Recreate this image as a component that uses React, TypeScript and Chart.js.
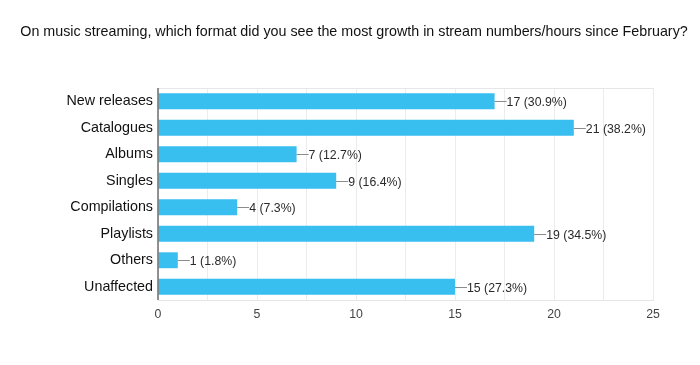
import React, { useEffect, useRef } from "react";
import { Chart, registerables } from "chart.js";

Chart.register(...registerables);

const titleText =
  "On music streaming, which format did you see the most growth in stream numbers/hours since February?";
const categories = [
  "New releases",
  "Catalogues",
  "Albums",
  "Singles",
  "Compilations",
  "Playlists",
  "Others",
  "Unaffected",
];
const counts = [17, 21, 7, 9, 4, 19, 1, 15];
const percents = ["30.9%", "38.2%", "12.7%", "16.4%", "7.3%", "34.5%", "1.8%", "27.3%"];
const xTicks = [0, 5, 10, 15, 20, 25];

const FONT = "Arial, 'Liberation Sans', Helvetica, sans-serif";

const labelPlugin = {
  id: "valueLabels",
  afterDatasetsDraw(chart: any) {
    const ctx = chart.ctx;
    const area = chart.chartArea;
    ctx.save();
    // title
    ctx.font = "14.3px " + FONT;
    ctx.fillStyle = "#111111";
    ctx.textAlign = "center";
    ctx.textBaseline = "middle";
    ctx.fillText(titleText, 354, 32);
    // top border
    ctx.strokeStyle = "#e6e6e6";
    ctx.lineWidth = 1;
    ctx.beginPath();
    ctx.moveTo(area.left, area.top + 0.5);
    ctx.lineTo(area.right, area.top + 0.5);
    ctx.stroke();
    // zero line
    const x0 = chart.scales.x.getPixelForValue(0);
    ctx.strokeStyle = "#6e6e6e";
    ctx.lineWidth = 1.5;
    ctx.beginPath();
    ctx.moveTo(x0, area.top);
    ctx.lineTo(x0, area.bottom);
    ctx.stroke();

    const meta = chart.getDatasetMeta(0);
    ctx.font = "12.3px " + FONT;
    ctx.textBaseline = "middle";
    ctx.textAlign = "left";
    meta.data.forEach((bar: any, i: number) => {
      const x = bar.x;
      const y = Math.round(bar.y) + 0.5;
      ctx.strokeStyle = "#8c8c8c";
      ctx.lineWidth = 1;
      ctx.beginPath();
      ctx.moveTo(x, y);
      ctx.lineTo(x + 12, y);
      ctx.stroke();
      ctx.fillStyle = "#2a2a2a";
      ctx.fillText(`${counts[i]} (${percents[i]})`, x + 12, y + 1);
    });
    ctx.restore();
  },
};

export default function App() {
  const ref = useRef<HTMLCanvasElement>(null);
  useEffect(() => {
    document.body.style.margin = "0";
    const chart = new Chart(ref.current as HTMLCanvasElement, {
      type: "bar",
      data: {
        labels: categories,
        datasets: [
          {
            data: counts,
            backgroundColor: "#39bef0",
            borderWidth: 0,
            barPercentage: 0.6,
            categoryPercentage: 1,
          },
        ],
      },
      options: {
        indexAxis: "y",
        animation: false,
        responsive: false,
        maintainAspectRatio: false,
        layout: { padding: { left: 0, right: 47, top: 88, bottom: 0 } },
        plugins: {
          legend: { display: false },
          tooltip: { enabled: false },
          title: { display: false },
        },
        scales: {
          x: {
            min: 0,
            max: 25,
            afterBuildTicks(scale: any) {
              const t: any[] = [];
              for (let v = 0; v <= 25; v += 2.5) t.push({ value: v });
              scale.ticks = t;
            },
            afterFit(scale: any) {
              scale.height = 65;
            },
            ticks: {
              color: "#444444",
              font: { family: FONT, size: 12.3 },
              padding: 7,
              maxRotation: 0,
              autoSkip: false,
              callback: (v: any) => (xTicks.includes(Number(v)) ? String(v) : ""),
            },
            grid: { color: "#ececec", drawTicks: false },
            border: { display: true, color: "#e6e6e6" },
          },
          y: {
            afterFit(scale: any) {
              scale.width = 158;
            },
            ticks: {
              color: "#111111",
              font: { family: FONT, size: 14.3 },
              padding: 5,
            },
            grid: { display: false, drawTicks: false },
            border: { display: false },
          },
        },
      },
      plugins: [labelPlugin],
    });
    return () => chart.destroy();
  }, []);
  return (
    <div style={{ width: 700, height: 365 }}>
      <canvas ref={ref} width={700} height={365} style={{ display: "block" }} />
    </div>
  );
}
